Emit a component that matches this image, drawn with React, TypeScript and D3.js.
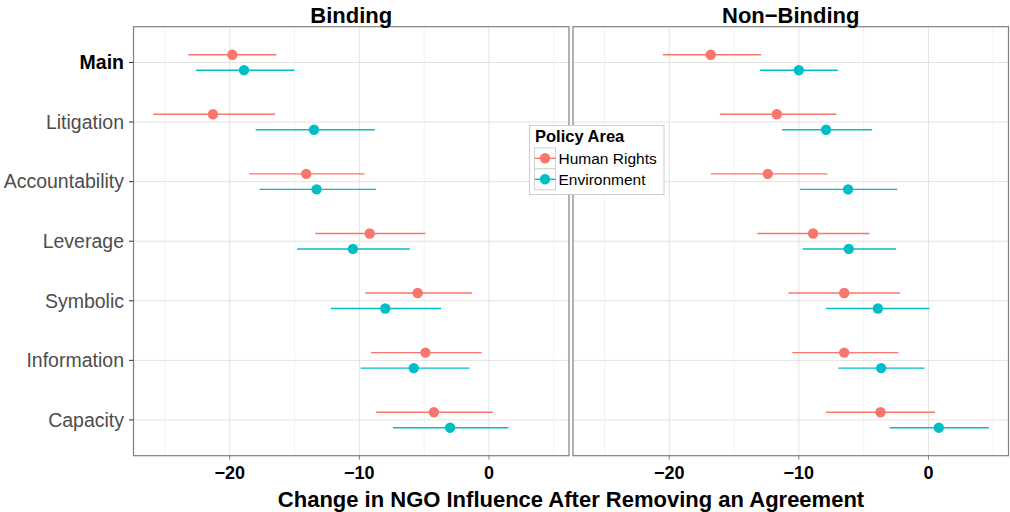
import React from "react";
import * as d3 from "d3";

const categories = ["Main", "Litigation", "Accountability", "Leverage", "Symbolic", "Information", "Capacity"];
const panels = ["Binding", "Non\u2212Binding"];
const seriesNames = ["Human Rights", "Environment"];
const seriesColors = ["#F8766D", "#00BFC4"];
const xTicks = [-20, -10, 0];
const xMinorTicks = [-25, -15, -5, 5];

// Binding panel: [estimate, lower, upper]
const bindingHR = [
  [-19.8, -23.2, -16.4],
  [-21.3, -25.9, -16.5],
  [-14.1, -18.5, -9.6],
  [-9.2, -13.4, -4.9],
  [-5.5, -9.55, -1.3],
  [-4.9, -9.1, -0.56],
  [-4.25, -8.7, 0.3],
];
const bindingEnv = [
  [-18.9, -22.6, -15.0],
  [-13.5, -18.0, -8.8],
  [-13.3, -17.7, -8.7],
  [-10.5, -14.8, -6.1],
  [-8.0, -12.2, -3.7],
  [-5.8, -9.9, -1.5],
  [-3.0, -7.4, 1.5],
];
// Non-Binding panel
const nonBindingHR = [
  [-16.8, -20.5, -12.9],
  [-11.7, -16.1, -7.1],
  [-12.4, -16.8, -7.8],
  [-8.9, -13.2, -4.55],
  [-6.5, -10.8, -2.2],
  [-6.5, -10.5, -2.3],
  [-3.7, -7.9, 0.5],
];
const nonBindingEnv = [
  [-10.0, -13.0, -7.0],
  [-7.9, -11.3, -4.35],
  [-6.2, -9.9, -2.4],
  [-6.15, -9.7, -2.5],
  [-3.9, -7.9, 0.08],
  [-3.65, -6.95, -0.3],
  [0.8, -3.0, 4.65],
];

const panelData = [
  [bindingHR, bindingEnv],
  [nonBindingHR, nonBindingEnv],
];

export default function App() {
  const W = 1010;
  const H = 512;
  const top = 26.7;
  const bottom = 455.7;
  const panelRanges: [number, number][] = [
    [133.5, 569],
    [573, 1008.5],
  ];

  const allVals = panelData.flat(2).flat();
  const [mn, mx] = d3.extent(allVals) as [number, number];
  const pad = (mx - mn) * 0.05;
  const domain: [number, number] = [mn - pad, mx + pad];

  const y = d3.scalePoint<string>().domain(categories).range([top, bottom]).padding(0.6);
  const dodge = y.step() * 0.13;
  const offsets = [-dodge, dodge];

  const font = "'Liberation Sans', Arial, Helvetica, sans-serif";

  return (
    <svg width={W} height={H} style={{ position: "absolute", left: 0, top: 0, fontFamily: font }}>
      <rect x={0} y={0} width={W} height={H} fill="#fff" />
      {panels.map((p, pi) => {
        const [r0, r1] = panelRanges[pi];
        const x = d3.scaleLinear().domain(domain).range([r0, r1]);
        return (
          <g key={p}>
            {xMinorTicks.map((t) => (
              <line key={"m" + t} x1={x(t)} x2={x(t)} y1={top} y2={bottom} stroke="#f3f3f3" strokeWidth={1} />
            ))}
            {xTicks.map((t) => (
              <line key={"M" + t} x1={x(t)} x2={x(t)} y1={top} y2={bottom} stroke="#e3e3e3" strokeWidth={1} />
            ))}
            {categories.map((c) => (
              <line key={c} x1={r0} x2={r1} y1={y(c)} y2={y(c)} stroke="#e3e3e3" strokeWidth={1} />
            ))}
            {panelData[pi].map((series, si) =>
              series.map((d, ci) => {
                const cy = (y(categories[ci]) as number) + offsets[si];
                return (
                  <g key={si + "-" + ci}>
                    <line x1={x(d[1])} x2={x(d[2])} y1={cy} y2={cy} stroke={seriesColors[si]} strokeWidth={1.4} />
                    <circle cx={x(d[0])} cy={cy} r={5.2} fill={seriesColors[si]} />
                  </g>
                );
              })
            )}
            <rect x={r0} y={top} width={r1 - r0} height={bottom - top} fill="none" stroke="#7f7f7f" strokeWidth={1.2} />
            <text x={(r0 + r1) / 2} y={22.5} textAnchor="middle" fontWeight="bold" fontSize={22} fill="#000">
              {p}
            </text>
            {xTicks.map((t) => (
              <g key={"t" + t}>
                <line x1={x(t)} x2={x(t)} y1={bottom} y2={bottom + 4} stroke="#7f7f7f" strokeWidth={1} />
                <text x={x(t)} y={479} textAnchor="middle" fontWeight="bold" fontSize={18} fill="#000">
                  {d3.format("")(t)}
                </text>
              </g>
            ))}
          </g>
        );
      })}
      {categories.map((c) => (
        <g key={"yl" + c}>
          <line x1={129} x2={133.5} y1={y(c)} y2={y(c)} stroke="#333" strokeWidth={1} />
          <text
            x={124}
            y={(y(c) as number) + 6.8}
            textAnchor="end"
            fontSize={19.5}
            fontWeight={c === "Main" ? "bold" : "normal"}
            fill={c === "Main" ? "#000" : "#4d4d4d"}
          >
            {c}
          </text>
        </g>
      ))}
      <text x={571} y={506.5} textAnchor="middle" fontWeight="bold" fontSize={22} fill="#000">
        Change in NGO Influence After Removing an Agreement
      </text>
      <g>
        <rect x={529.5} y={125.5} width={134.5} height={69} fill="#fff" stroke="#cccccc" strokeWidth={1} />
        <text x={535} y={141.5} fontWeight="bold" fontSize={16.5} fill="#000">
          Policy Area
        </text>
        {seriesNames.map((s, i) => {
          const cy = 158.3 + i * 21;
          return (
            <g key={s}>
              <rect x={534.5} y={cy - 10.5} width={21} height={21} fill="#fff" stroke="#d0d0d0" strokeWidth={1} />
              <line x1={535} x2={555.5} y1={cy} y2={cy} stroke={seriesColors[i]} strokeWidth={1.4} />
              <circle cx={545} cy={cy} r={5.2} fill={seriesColors[i]} />
              <text x={558.5} y={cy + 5.5} fontSize={15.5} fill="#000">
                {s}
              </text>
            </g>
          );
        })}
      </g>
    </svg>
  );
}
